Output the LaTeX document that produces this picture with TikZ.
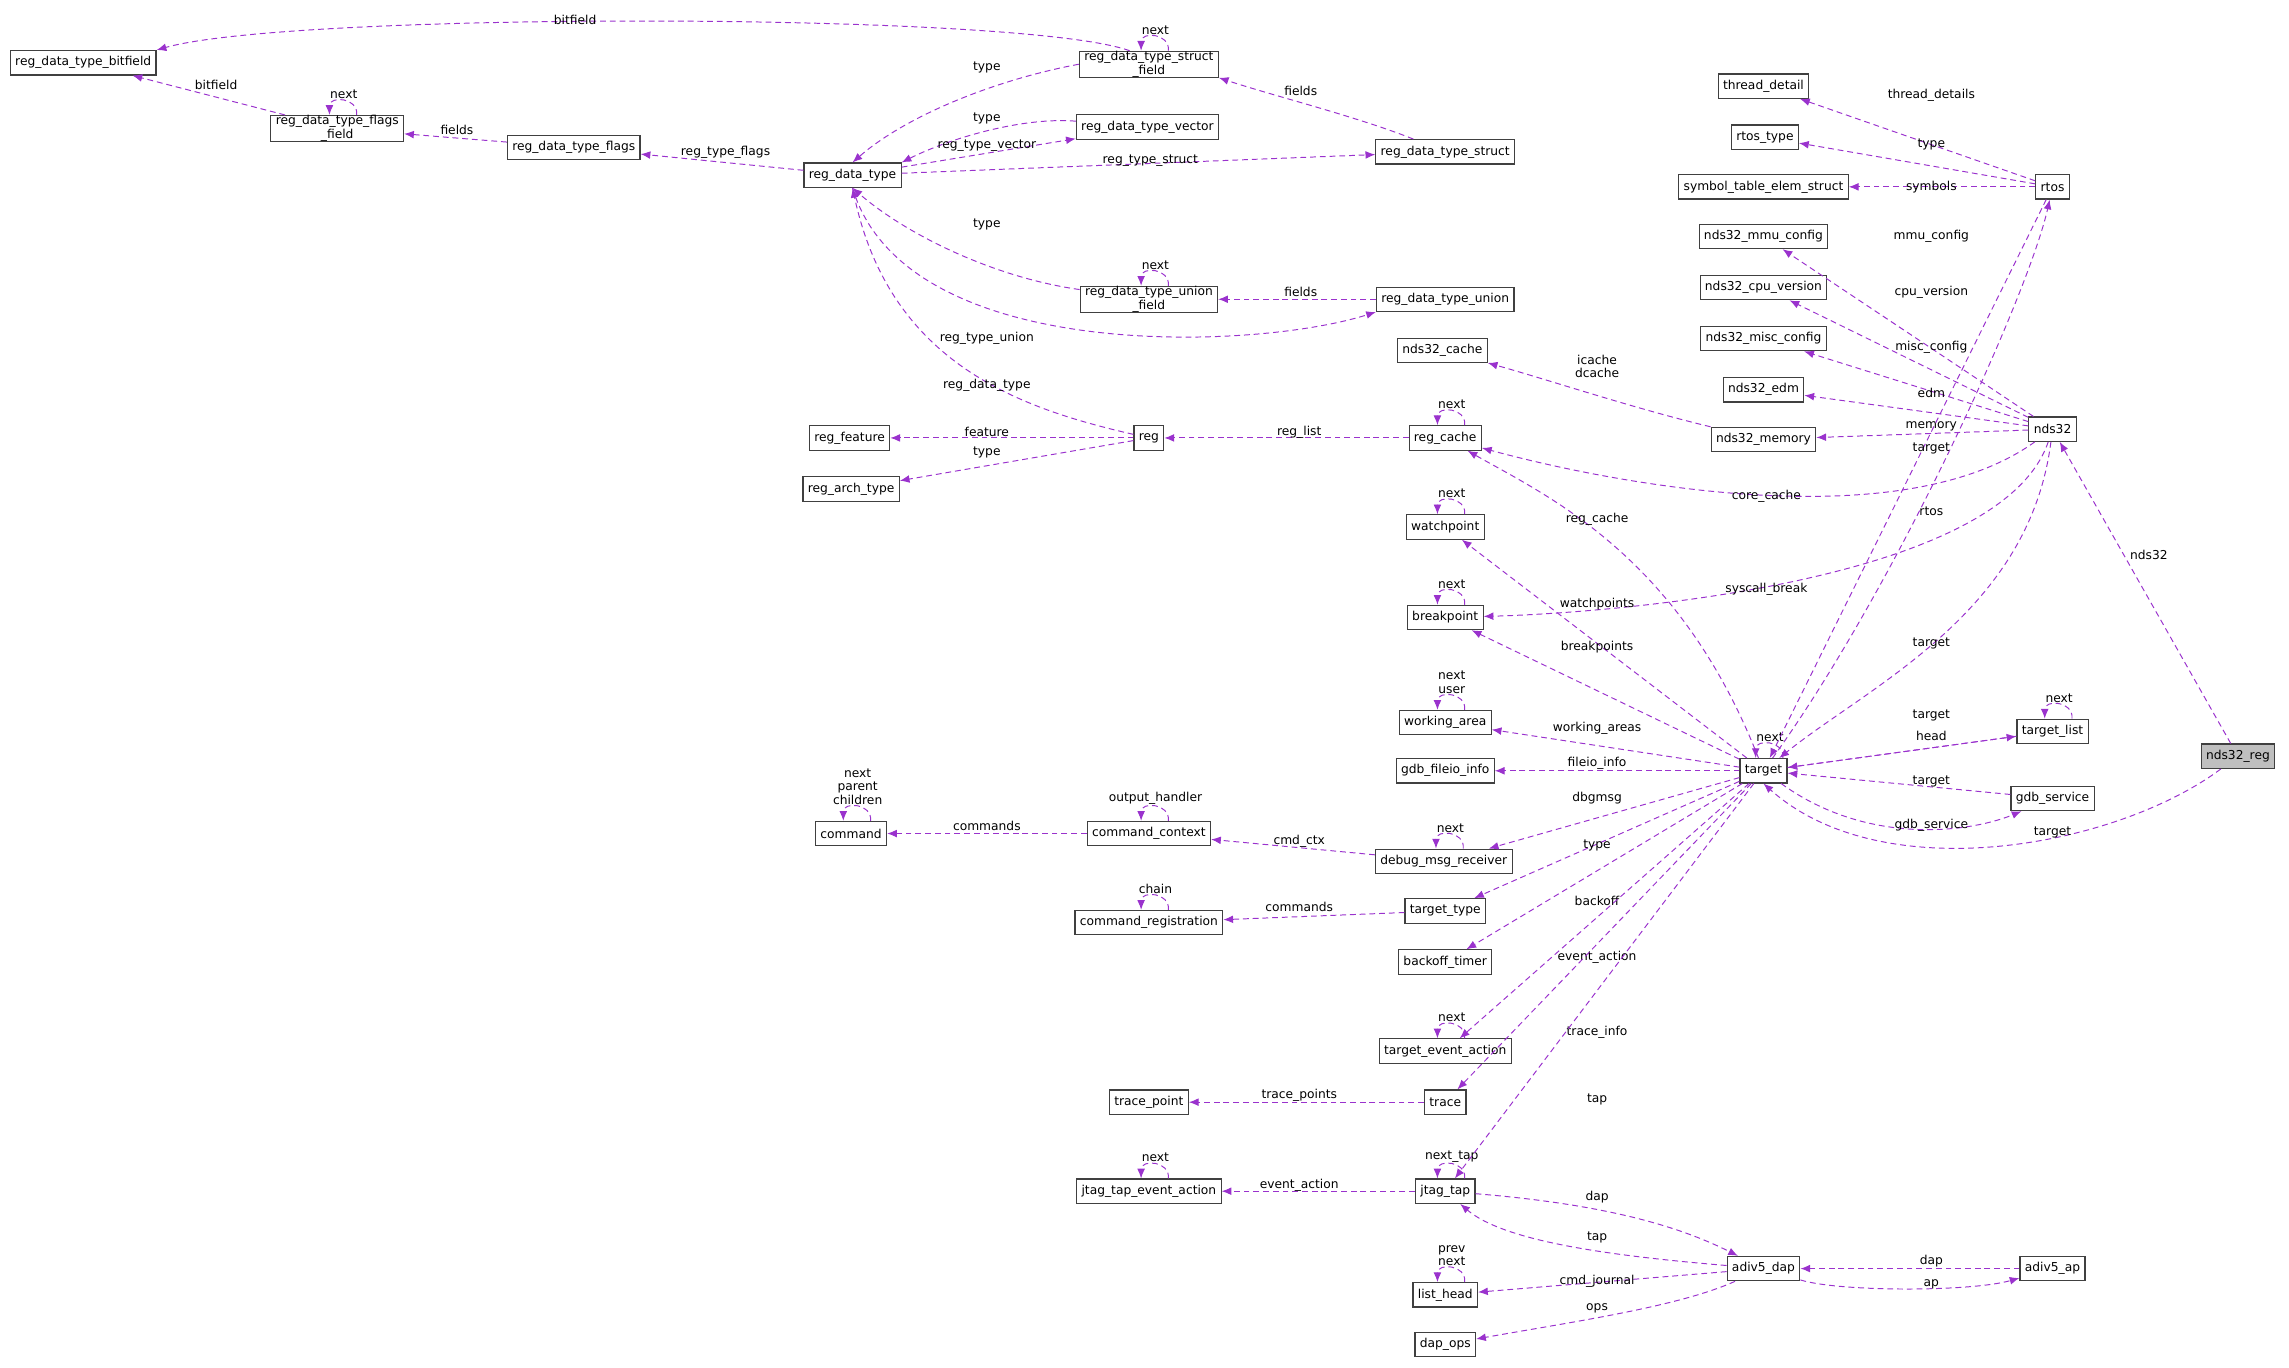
\documentclass[tikz,border=0pt]{standalone}
\usepackage{fontspec}
\setmainfont{DejaVu Sans}
\usetikzlibrary{arrows.meta}
\definecolor{memb}{RGB}{154,50,205}
\tikzset{
  cls/.style={draw=black!75, fill=white, font=\fontsize{6.3}{7}\selectfont, inner xsep=2.5pt, inner ysep=0pt, minimum height=12.5pt, line width=0.6pt, align=center},
  mbr/.style={draw=memb, dash pattern=on 3pt off 2pt, line width=0.5pt, -{Latex[length=5pt,width=4pt]}},
  lbl/.style={font=\fontsize{6.3}{7}\selectfont, inner sep=0pt, align=center},
}
\newcommand{\selfloop}[2]{\draw[mbr] ([xshift=10pt]#1.north) .. controls +(1pt,9pt) and +(0pt,10pt) .. node[lbl,above=1pt]{#2} ([xshift=-4pt]#1.north);}

\begin{document}
\begin{tikzpicture}[x=0.75pt,y=-0.75pt]
    \useasboundingbox (0,0) rectangle (1568,937);
    % classes
    \node[cls] (bitf) at (57,43) {reg\_data\_type\_bitfield};
    \node[cls] (sfld) at (787,44) {reg\_data\_type\_struct\\\_field};
    \node[cls] (ffld) at (231,88) {reg\_data\_type\_flags\\\_field};
    \node[cls] (flags) at (393,101) {reg\_data\_type\_flags};
    \node[cls] (rdt) at (584,120) {reg\_data\_type};
    \node[cls] (vec) at (786,87) {reg\_data\_type\_vector};
    \node[cls] (strct) at (990,104) {reg\_data\_type\_struct};
    \node[cls] (ufld) at (787,205) {reg\_data\_type\_union\\\_field};
    \node[cls] (union) at (990,205) {reg\_data\_type\_union};
    \node[cls] (feat) at (582,300) {reg\_feature};
    \node[cls] (arch) at (583,335) {reg\_arch\_type};
    \node[cls] (reg) at (787,300) {reg};
    \node[cls] (rcache) at (990,300) {reg\_cache};
    \node[cls] (ncache) at (988,240) {nds32\_cache};
    \node[cls] (nmem) at (1208,301) {nds32\_memory};
    \node[cls] (thr) at (1208,59) {thread\_detail};
    \node[cls] (rtype) at (1209,94) {rtos\_type};
    \node[cls] (sym) at (1208,128) {symbol\_table\_elem\_struct};
    \node[cls] (rtos) at (1406,128) {rtos};
    \node[cls] (mmu) at (1208,162) {nds32\_mmu\_config};
    \node[cls] (cpuv) at (1208,197) {nds32\_cpu\_version};
    \node[cls] (misc) at (1208,232) {nds32\_misc\_config};
    \node[cls] (edm) at (1208,267) {nds32\_edm};
    \node[cls] (nds) at (1406,294) {nds32};
    \node[cls] (wp) at (990,361) {watchpoint};
    \node[cls] (bp) at (990,423) {breakpoint};
    \node[cls] (warea) at (990,495) {working\_area};
    \node[cls] (fio) at (990,528) {gdb\_fileio\_info};
    \node[cls] (tgt) at (1208,528) {target};
    \node[cls] (tlist) at (1406,501) {target\_list};
    \node[cls] (gdbs) at (1406,547) {gdb\_service};
    \node[cls,fill=black!25] (nreg) at (1533,518) {nds32\_reg};
    \node[cls] (cmd) at (583,571) {command};
    \node[cls] (cctx) at (787,571) {command\_context};
    \node[cls] (dmr) at (989,590) {debug\_msg\_receiver};
    \node[cls] (creg) at (787,632) {command\_registration};
    \node[cls] (ttype) at (990,624) {target\_type};
    \node[cls] (boff) at (990,659) {backoff\_timer};
    \node[cls] (tea) at (990,720) {target\_event\_action};
    \node[cls] (tpt) at (787,755) {trace\_point};
    \node[cls] (trace) at (990,755) {trace};
    \node[cls] (jtea) at (787,816) {jtag\_tap\_event\_action};
    \node[cls] (jtap) at (990,816) {jtag\_tap};
    \node[cls] (dap) at (1208,869) {adiv5\_dap};
    \node[cls] (ap) at (1406,869) {adiv5\_ap};
    \node[cls] (lhead) at (990,887) {list\_head};
    \node[cls] (dops) at (990,921) {dap\_ops};
    % self references
    \selfloop{sfld}{next}
    \selfloop{ffld}{next}
    \selfloop{ufld}{next}
    \selfloop{rcache}{next}
    \selfloop{wp}{next}
    \selfloop{bp}{next}
    \selfloop{warea}{next\\user}
    \selfloop{tgt}{next}
    \selfloop{tlist}{next}
    \selfloop{cmd}{next\\parent\\children}
    \selfloop{cctx}{output\_handler}
    \selfloop{dmr}{next}
    \selfloop{creg}{chain}
    \selfloop{tea}{next}
    \selfloop{jtap}{next\_tap}
    \selfloop{jtea}{next}
    \selfloop{lhead}{prev\\next}
    % register types
    \draw[mbr] (sfld.145) .. controls (700,8) and (200,8) .. (bitf.north east); \node[lbl] at (394,14) {bitfield};
    \draw[mbr] (ffld) -- (bitf); \node[lbl] at (148,58) {bitfield};
    \draw[mbr] (flags) -- (ffld); \node[lbl] at (313,89) {fields};
    \draw[mbr] (rdt) -- (flags); \node[lbl] at (497,104) {reg\_type\_flags};
    \draw[mbr] (sfld.west) .. controls (680,55) and (620,80) .. (rdt.north); \node[lbl] at (676,46) {type};
    \draw[mbr] (vec) .. controls (700,80) and (650,95) .. (rdt.north east); \node[lbl] at (676,81) {type};
    \draw[mbr] (rdt) -- (vec); \node[lbl] at (676,100) {reg\_type\_vector};
    \draw[mbr] (rdt) -- (strct); \node[lbl] at (788,110) {reg\_type\_struct};
    \draw[mbr] (strct) .. controls (930,80) and (870,65) .. (sfld.south east); \node[lbl] at (891,62) {fields};
    \draw[mbr] (ufld) .. controls (680,190) and (620,160) .. (rdt.south); \node[lbl] at (676,154) {type};
    \draw[mbr] (union) -- (ufld); \node[lbl] at (891,200) {fields};
    \draw[mbr] (rdt.south) .. controls (620,250) and (860,240) .. (union.south west); \node[lbl] at (676,232) {reg\_type\_union};
    \draw[mbr] (reg) .. controls (700,280) and (610,250) .. (rdt.south); \node[lbl] at (676,264) {reg\_data\_type};
    \draw[mbr] (reg) -- (feat); \node[lbl] at (676,296) {feature};
    \draw[mbr] (reg) -- (arch); \node[lbl] at (676,310) {type};
    \draw[mbr] (rcache) -- (reg); \node[lbl] at (890,296) {reg\_list};
    % nds32 and rtos
    \draw[mbr] (nmem) .. controls (1120,280) and (1060,260) .. (ncache); \node[lbl] at (1094,251) {icache\\dcache};
    \draw[mbr] (rtos) -- (thr); \node[lbl] at (1323,65) {thread\_details};
    \draw[mbr] (rtos) -- (rtype); \node[lbl] at (1323,99) {type};
    \draw[mbr] (rtos) -- (sym); \node[lbl] at (1323,128) {symbols};
    \draw[mbr] (nds) -- (mmu); \node[lbl] at (1323,162) {mmu\_config};
    \draw[mbr] (nds) -- (cpuv); \node[lbl] at (1323,200) {cpu\_version};
    \draw[mbr] (nds) -- (misc); \node[lbl] at (1323,238) {misc\_config};
    \draw[mbr] (nds) -- (edm); \node[lbl] at (1323,269) {edm};
    \draw[mbr] (nds) -- (nmem); \node[lbl] at (1323,292) {memory};
    \draw[mbr] (rtos) -- (tgt); \node[lbl] at (1323,307) {target};
    \draw[mbr] (tgt) .. controls (1300,400) and (1390,200) .. (rtos); \node[lbl] at (1323,350) {rtos};
    \draw[mbr] (nds) .. controls (1300,370) and (1100,330) .. (rcache); \node[lbl] at (1210,340) {core\_cache};
    \draw[mbr] (nds) .. controls (1370,400) and (1100,420) .. (bp); \node[lbl] at (1210,404) {syscall\_break};
    \draw[mbr] (nds) .. controls (1390,420) and (1280,470) .. (tgt); \node[lbl] at (1323,441) {target};
    \draw[mbr] (nreg) -- (nds); \node[lbl] at (1472,380) {nds32};
    \draw[mbr] (nreg) .. controls (1450,580) and (1290,610) .. (tgt.south); \node[lbl] at (1406,570) {target};
    % target members
    \draw[mbr] (tgt) .. controls (1150,380) and (1060,340) .. (rcache); \node[lbl] at (1094,356) {reg\_cache};
    \draw[mbr] (tgt) -- (wp); \node[lbl] at (1094,414) {watchpoints};
    \draw[mbr] (tgt) -- (bp); \node[lbl] at (1094,443) {breakpoints};
    \draw[mbr] (tgt) -- (warea); \node[lbl] at (1094,499) {working\_areas};
    \draw[mbr] (tgt) -- (fio); \node[lbl] at (1094,523) {fileio\_info};
    \draw[mbr] (tgt) -- (dmr); \node[lbl] at (1094,547) {dbgmsg};
    \draw[mbr] (tgt) -- (ttype); \node[lbl] at (1094,579) {type};
    \draw[mbr] (tgt) -- (boff); \node[lbl] at (1094,617) {backoff};
    \draw[mbr] (tgt) -- (tea); \node[lbl] at (1094,656) {event\_action};
    \draw[mbr] (tgt) -- (trace); \node[lbl] at (1094,707) {trace\_info};
    \draw[mbr] (tgt) -- (jtap); \node[lbl] at (1094,753) {tap};
    \draw[mbr] (tlist) -- (tgt); \node[lbl] at (1323,490) {target};
    \draw[mbr] (tgt) -- (tlist); \node[lbl] at (1323,504) {head};
    \draw[mbr] (gdbs) -- (tgt); \node[lbl] at (1323,535) {target};
    \draw[mbr] (tgt) .. controls (1280,580) and (1350,570) .. (gdbs); \node[lbl] at (1323,565) {gdb\_service};
    % commands, traces, taps
    \draw[mbr] (dmr) -- (cctx); \node[lbl] at (890,576) {cmd\_ctx};
    \draw[mbr] (cctx) -- (cmd); \node[lbl] at (676,566) {commands};
    \draw[mbr] (ttype) -- (creg); \node[lbl] at (890,621) {commands};
    \draw[mbr] (trace) -- (tpt); \node[lbl] at (890,750) {trace\_points};
    \draw[mbr] (jtap) -- (jtea); \node[lbl] at (890,812) {event\_action};
    \draw[mbr] (jtap) .. controls (1100,825) and (1150,840) .. (dap); \node[lbl] at (1094,820) {dap};
    \draw[mbr] (dap) .. controls (1100,860) and (1030,850) .. (jtap); \node[lbl] at (1094,848) {tap};
    \draw[mbr] (dap) -- (lhead); \node[lbl] at (1094,878) {cmd\_journal};
    \draw[mbr] (dap) .. controls (1150,895) and (1080,905) .. (dops); \node[lbl] at (1094,896) {ops};
    \draw[mbr] (ap) -- (dap); \node[lbl] at (1323,864) {dap};
    \draw[mbr] (dap) .. controls (1260,885) and (1350,885) .. (ap); \node[lbl] at (1323,880) {ap};
\end{tikzpicture}
\end{document}
